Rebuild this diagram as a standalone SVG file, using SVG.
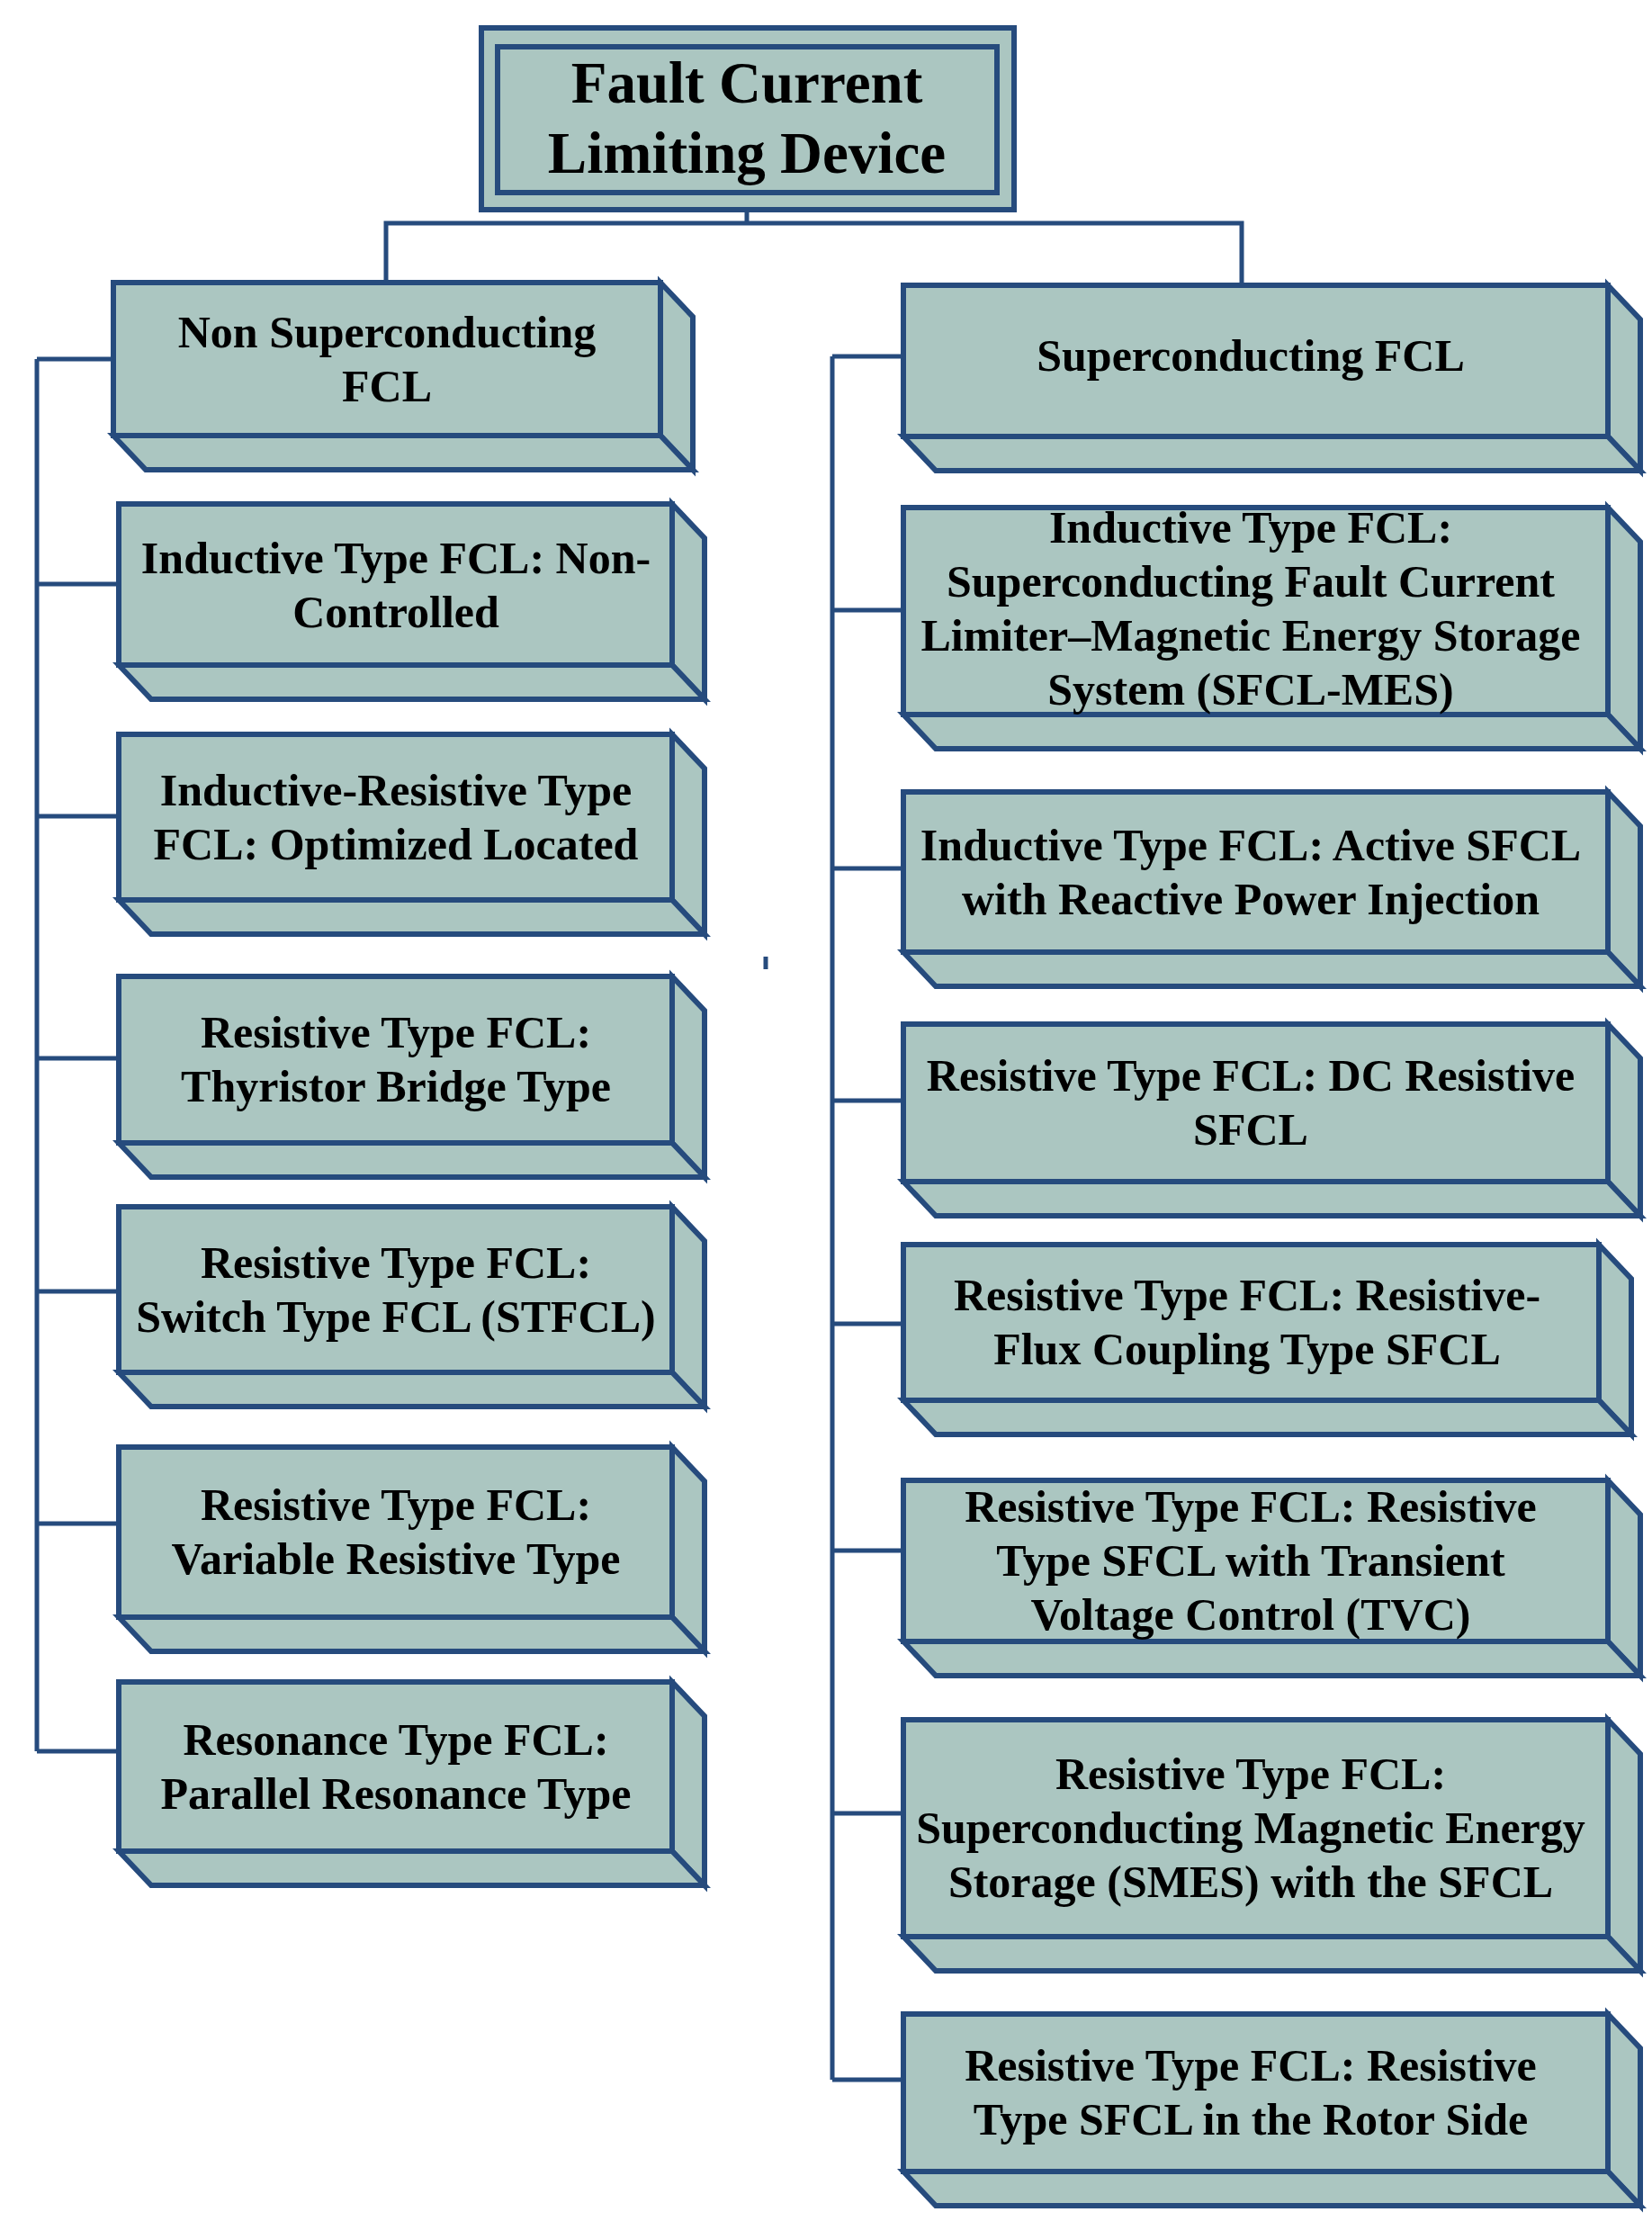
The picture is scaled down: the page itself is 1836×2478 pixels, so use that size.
<svg xmlns="http://www.w3.org/2000/svg" width="1836" height="2478" viewBox="0 0 1836 2478">
<style>
.f{fill:#abc6c1;stroke:#264b7d;stroke-width:6;stroke-linejoin:miter}
.c{fill:none;stroke:#264b7d;stroke-width:5}
text{font-family:"Liberation Serif","Times New Roman",serif;font-weight:bold;font-size:50px;fill:#000;text-anchor:middle}
.t{font-size:65px}
</style>
<rect width="1836" height="2478" fill="#fff"/>
<g id="connectors">
<path class="c" d="M830 233V248M429 314V248H1380V314"/>
<path class="c" d="M41 399V1946M41 399H126M41 649H132M41 907H132M41 1176H132M41 1435H132M41 1693H132M41 1946H132"/>
<path class="c" d="M925 396V2311M925 396H1004M925 678H1004M925 965H1004M925 1223H1004M925 1471H1004M925 1723H1004M925 2015H1004M925 2311H1004"/>
<path class="c" d="M851 1063V1077"/>
</g>
<g id="root">
<rect class="f" x="535" y="31" width="592" height="202" stroke-width="7"/>
<rect class="f" x="553" y="52" width="555" height="162" stroke-width="8"/>
<text class="t" x="830" y="114">Fault Current</text>
<text class="t" x="830" y="192">Limiting Device</text>
</g>
<g id="n1"><rect class="f" x="126" y="314" width="608" height="170"/><path class="f" d="M734 314L770 352V522L734 484Z"/><path class="f" d="M126 484L162 522H770L734 484Z"/><text x="430" y="386">Non Superconducting</text><text x="430" y="446">FCL</text></g>
<g id="n2"><rect class="f" x="132" y="560" width="615" height="179"/><path class="f" d="M747 560L783 598V777L747 739Z"/><path class="f" d="M132 739L168 777H783L747 739Z"/><text x="440" y="637">Inductive Type FCL: Non-</text><text x="440" y="697">Controlled</text></g>
<g id="n3"><rect class="f" x="132" y="816" width="615" height="184"/><path class="f" d="M747 816L783 854V1038L747 1000Z"/><path class="f" d="M132 1000L168 1038H783L747 1000Z"/><text x="440" y="895">Inductive-Resistive Type</text><text x="440" y="955">FCL: Optimized Located</text></g>
<g id="n4"><rect class="f" x="132" y="1085" width="615" height="185"/><path class="f" d="M747 1085L783 1123V1308L747 1270Z"/><path class="f" d="M132 1270L168 1308H783L747 1270Z"/><text x="440" y="1164">Resistive Type FCL:</text><text x="440" y="1224">Thyristor Bridge Type</text></g>
<g id="n5"><rect class="f" x="132" y="1341" width="615" height="184"/><path class="f" d="M747 1341L783 1379V1563L747 1525Z"/><path class="f" d="M132 1525L168 1563H783L747 1525Z"/><text x="440" y="1420">Resistive Type FCL:</text><text x="440" y="1480">Switch Type FCL (STFCL)</text></g>
<g id="n6"><rect class="f" x="132" y="1608" width="615" height="189"/><path class="f" d="M747 1608L783 1646V1835L747 1797Z"/><path class="f" d="M132 1797L168 1835H783L747 1797Z"/><text x="440" y="1689">Resistive Type FCL:</text><text x="440" y="1749">Variable Resistive Type</text></g>
<g id="n7"><rect class="f" x="132" y="1869" width="615" height="188"/><path class="f" d="M747 1869L783 1907V2095L747 2057Z"/><path class="f" d="M132 2057L168 2095H783L747 2057Z"/><text x="440" y="1950">Resonance Type FCL:</text><text x="440" y="2010">Parallel Resonance Type</text></g>
<g id="r1"><rect class="f" x="1004" y="317" width="783" height="168"/><path class="f" d="M1787 317L1823 355V523L1787 485Z"/><path class="f" d="M1004 485L1040 523H1823L1787 485Z"/><text x="1390" y="412">Superconducting FCL</text></g>
<g id="r2"><rect class="f" x="1004" y="564" width="783" height="230"/><path class="f" d="M1787 564L1823 602V832L1787 794Z"/><path class="f" d="M1004 794L1040 832H1823L1787 794Z"/><text x="1390" y="603">Inductive Type FCL:</text><text x="1390" y="663">Superconducting Fault Current</text><text x="1390" y="723">Limiter–Magnetic Energy Storage</text><text x="1390" y="783">System (SFCL-MES)</text></g>
<g id="r3"><rect class="f" x="1004" y="880" width="783" height="178"/><path class="f" d="M1787 880L1823 918V1096L1787 1058Z"/><path class="f" d="M1004 1058L1040 1096H1823L1787 1058Z"/><text x="1390" y="956">Inductive Type FCL: Active SFCL</text><text x="1390" y="1016">with Reactive Power Injection</text></g>
<g id="r4"><rect class="f" x="1004" y="1138" width="783" height="175"/><path class="f" d="M1787 1138L1823 1176V1351L1787 1313Z"/><path class="f" d="M1004 1313L1040 1351H1823L1787 1313Z"/><text x="1390" y="1212">Resistive Type FCL: DC Resistive</text><text x="1390" y="1272">SFCL</text></g>
<g id="r5"><rect class="f" x="1004" y="1383" width="773" height="173"/><path class="f" d="M1777 1383L1813 1421V1594L1777 1556Z"/><path class="f" d="M1004 1556L1040 1594H1813L1777 1556Z"/><text x="1386" y="1456">Resistive Type FCL: Resistive-</text><text x="1386" y="1516">Flux Coupling Type SFCL</text></g>
<g id="r6"><rect class="f" x="1004" y="1645" width="783" height="179"/><path class="f" d="M1787 1645L1823 1683V1862L1787 1824Z"/><path class="f" d="M1004 1824L1040 1862H1823L1787 1824Z"/><text x="1390" y="1691">Resistive Type FCL: Resistive</text><text x="1390" y="1751">Type SFCL with Transient</text><text x="1390" y="1811">Voltage Control (TVC)</text></g>
<g id="r7"><rect class="f" x="1004" y="1911" width="783" height="241"/><path class="f" d="M1787 1911L1823 1949V2190L1787 2152Z"/><path class="f" d="M1004 2152L1040 2190H1823L1787 2152Z"/><text x="1390" y="1988">Resistive Type FCL:</text><text x="1390" y="2048">Superconducting Magnetic Energy</text><text x="1390" y="2108">Storage (SMES) with the SFCL</text></g>
<g id="r8"><rect class="f" x="1004" y="2238" width="783" height="175"/><path class="f" d="M1787 2238L1823 2276V2451L1787 2413Z"/><path class="f" d="M1004 2413L1040 2451H1823L1787 2413Z"/><text x="1390" y="2312">Resistive Type FCL: Resistive</text><text x="1390" y="2372">Type SFCL in the Rotor Side</text></g>
</svg>
